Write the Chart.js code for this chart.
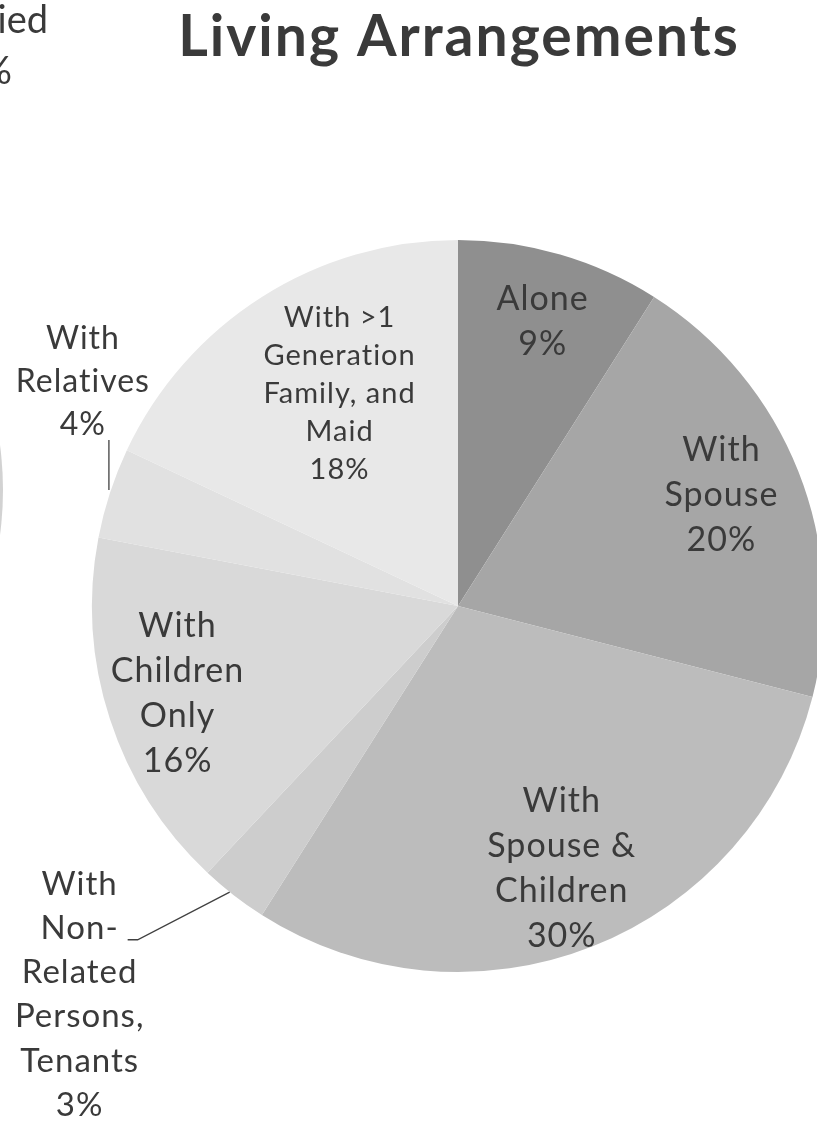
<!DOCTYPE html>
<html>
<head>
<meta charset="utf-8">
<script src="https://cdn.jsdelivr.net/npm/chart.js@4.4.1/dist/chart.umd.min.js"></script>
<style>
  html, body { margin: 0; padding: 0; background: #fff; overflow: hidden; }
  #wrap { width: 900px; height: 1122px; }
</style>
</head>
<body>
<div id="wrap"><canvas id="pie" width="900" height="1122"></canvas></div>
<script>
// data
const categories = [
  'Alone',
  'With Spouse',
  'With Spouse & Children',
  'With Non-Related Persons, Tenants',
  'With Children Only',
  'With Relatives',
  'With >1 Generation Family, and Maid'
];
const values = [9, 20, 30, 3, 16, 4, 18];
const labelLines = [
  ['Alone'],
  ['With', 'Spouse'],
  ['With', 'Spouse &', 'Children'],
  ['With', 'Non-', 'Related', 'Persons,', 'Tenants'],
  ['With', 'Children', 'Only'],
  ['With', 'Relatives'],
  ['With >1', 'Generation', 'Family, and', 'Maid']
];
const sliceColours = ['#8f8f8f', '#a6a6a6', '#bcbcbc', '#cdcdcd', '#d9d9d9', '#e1e1e1', '#e8e8e8'];

// label placement: fraction of radius along slice middle, then pixel nudge
const labelRadius = [0.81, 0.78, 0.77, 1.486, 0.80, 1.0, 0.66];
const labelNudge = [[2, 0], [-2, -6], [0, 1], [-45, -41], [-2, -3], [-27, -111], [11, -8]];
const labelSize = [34, 34, 34, 33, 34, 32, 29];
const labelLeading = [45, 45, 45, 44.2, 45, 43, 38];

const textColour = '#3a3a3a';
const font = '"Gill Sans", "Gill Sans MT", Lato, sans-serif';

const labelPlugin = {
  id: 'sliceLabels',
  beforeDraw(chart) {
    const ctx = chart.ctx;
    ctx.save();
    // edge of the neighbouring chart, cut off at the left
    ctx.fillStyle = '#d2d2d2';
    ctx.beginPath();
    ctx.arc(-337, 490, 340, 0, Math.PI * 2);
    ctx.fill();
    ctx.fillStyle = textColour;
    ctx.font = '38px ' + font;
    ctx.textAlign = 'right';
    ctx.textBaseline = 'alphabetic';
    ctx.fillText('Married', 48, 33);
    ctx.fillText('62%', 12, 84);
    // title
    ctx.font = 'bold 57px ' + font;
    ctx.letterSpacing = '2px';
    ctx.textAlign = 'center';
    ctx.fillText('Living Arrangements', 459, 56, 575);
    ctx.restore();
  },
  afterDatasetsDraw(chart) {
    const ctx = chart.ctx;
    const arcs = chart.getDatasetMeta(0).data;
    ctx.save();
    ctx.fillStyle = textColour;
    ctx.strokeStyle = '#404040';
    ctx.lineWidth = 1.3;
    ctx.textAlign = 'center';
    ctx.textBaseline = 'middle';
    ctx.letterSpacing = '1px';
    arcs.forEach((arc, i) => {
      const mid = (arc.startAngle + arc.endAngle) / 2;
      const r = arc.outerRadius;
      const edgeX = arc.x + Math.cos(mid) * r;
      const edgeY = arc.y + Math.sin(mid) * r;
      const lx = arc.x + Math.cos(mid) * r * labelRadius[i] + labelNudge[i][0];
      const ly = arc.y + Math.sin(mid) * r * labelRadius[i] + labelNudge[i][1];
      const lines = labelLines[i].concat([values[i] + '%']);
      const lead = labelLeading[i];
      const top = ly - lead * (lines.length - 1) / 2;
      ctx.font = labelSize[i] + 'px ' + font;
      lines.forEach((t, k) => ctx.fillText(t, lx, top + k * lead));

      // leader lines for the two small slices
      if (i === 5) {
        ctx.beginPath();
        ctx.moveTo(edgeX - 1, edgeY - 3);
        ctx.lineTo(edgeX - 1, ly + 58);
        ctx.stroke();
      }
      if (i === 3) {
        ctx.beginPath();
        ctx.moveTo(edgeX - 4, edgeY - 3);
        ctx.lineTo(lx + 58, ly - 55);
        ctx.lineTo(lx + 48, ly - 55);
        ctx.stroke();
      }
    });
    ctx.restore();
  }
};

const chart = document.querySelector('#pie');
new Chart(chart, {
  type: 'pie',
  data: {
    labels: categories,
    datasets: [{
      data: values,
      backgroundColor: sliceColours,
      borderWidth: 0
    }]
  },
  options: {
    responsive: false,
    animation: false,
    layout: {
      padding: { left: 92, right: 76, top: 240, bottom: 150 }
    },
    plugins: {
      legend: { display: false },
      tooltip: { enabled: false },
      title: { display: false }
    }
  },
  plugins: [labelPlugin]
});
</script>
</body>
</html>
